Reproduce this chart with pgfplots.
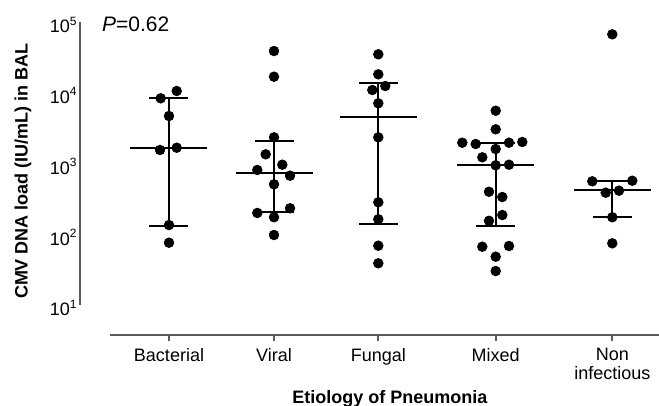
\documentclass[border=0pt]{standalone}
\usepackage{fontspec}
\setmainfont{Liberation Sans}
\usepackage{pgfplots}
\usepackage{pgfplotstable}
\pgfplotsset{compat=1.18}

\definecolor{axisgray}{RGB}{90,90,90}
\tikzset{axl/.style={axisgray, line width=0.9pt}}

% x = horizontal position of each dot (category centre plus jitter), y = CMV load
\pgfplotstableread{
x y
160.7 8345
176.7 10590
169 4690
160 1553
176.7 1672
169 135
169 76
}\bacterial
\pgfplotstableread{
x y
274 38900
274 16870
274 2345
265.7 1349
282.3 962
257.3 810
290 673
274 508
257.3 200
290 233
274 174
274 97.6
}\viral
\pgfplotstableread{
x y
378.3 34940
378.3 18230
372.3 10940
385.3 12450
378.3 7095
378.3 2345
378.3 283
378.3 163
378.3 68.9
378.3 38.9
}\fungal
\pgfplotstableread{
x y
495.7 5575
495.7 3043
462.3 1968
475.7 1887
509 1968
522.3 2014
495.7 1603
482.3 1224
495.7 943
509 962
489 399
502.3 336
502.3 187
489 155
482.3 66.7
509 68.2
495.7 48.2
495.7 30.2
}\mixed
\pgfplotstableread{
x y
612.3 67000
592.3 560
632.3 571
605.7 387
619 413
612.3 174
612.3 74.5
}\noninf

% median and interquartile range
\pgfplotstableread{
x y
169 1672
274 727
378.3 4585
495.7 962
612.3 422
}\medians
\pgfplotstableread{
x y
169 8345
169 132
274 2080
274 204
378.3 13870
378.3 141
495.7 1968
495.7 131
612.3 571
612.3 174
}\quartiles

\begin{document}
\begin{tikzpicture}
\begin{axis}[
  scale only axis,
  width=289.5pt, height=156.5pt,
  xmin=80, xmax=659,
  ymode=log, ymin=3.767, ymax=1e5,
  clip=false,
  axis line style={draw=none},
  xtick={169,274,378.3,495.7,612.3},
  xticklabels={Bacterial,Viral,Fungal,Mixed,{Non\\infectious}},
  ytick={10,100,1000,10000,100000},
  yticklabels={10\textsuperscript{1},10\textsuperscript{2},10\textsuperscript{3},10\textsuperscript{4},10\textsuperscript{5}},
  yminorticks=false,
  xtick style={draw=none}, ytick style={draw=none},
  xtick pos=bottom, ytick pos=left,
  xticklabel style={anchor=north, inner sep=0pt, yshift=-6.5pt, align=center,
    font=\fontsize{9}{9.5}\selectfont},
  yticklabel style={anchor=east, inner sep=0pt, xshift=-1pt, yshift=-1.5pt,
    font=\fontsize{9}{10}\selectfont},
  xlabel={Etiology of Pneumonia},
  ylabel={CMV DNA load (IU/mL) in BAL},
  xlabel style={at={(axis description cs:0.535,-0.2204)}, anchor=base,
    font=\bfseries\fontsize{9}{10}\selectfont},
  ylabel style={at={(axis description cs:-0.0984,0.524)}, anchor=center,
    font=\bfseries\fontsize{9}{10}\selectfont},
  whisk/.style={black, line width=1.1pt, forget plot},
  dots/.style={only marks, mark=*, mark size=2.4pt, black, forget plot},
]
% axis lines (detached, GraphPad style)
\draw[axl] (axis cs:80,10) -- (axis cs:80,1e5);
\draw[axl] (axis cs:110,3.767) -- (axis cs:659,3.767);
\draw[axl] (axis cs:169,3.767) -- (axis cs:169,3.1);
\draw[axl] (axis cs:274,3.767) -- (axis cs:274,3.1);
\draw[axl] (axis cs:378.3,3.767) -- (axis cs:378.3,3.1);
\draw[axl] (axis cs:495.7,3.767) -- (axis cs:495.7,3.1);
\draw[axl] (axis cs:612.3,3.767) -- (axis cs:612.3,3.1);

\addplot[whisk] coordinates {(169,132) (169,8345)};
\addplot[whisk] coordinates {(274,204) (274,2080)};
\addplot[whisk] coordinates {(378.3,141) (378.3,13870)};
\addplot[whisk] coordinates {(495.7,131) (495.7,1968)};
\addplot[whisk] coordinates {(612.3,174) (612.3,571)};
\addplot[only marks, mark=-, mark size=9.75pt, mark options={line width=1.1pt}, black, forget plot] table {\quartiles};
\addplot[only marks, mark=-, mark size=19.25pt, mark options={line width=1.1pt}, black, forget plot] table {\medians};

\addplot[dots] table {\bacterial};
\addplot[dots] table {\viral};
\addplot[dots] table {\fungal};
\addplot[dots] table {\mixed};
\addplot[dots] table {\noninf};

\node[anchor=base west, inner sep=0pt, font=\fontsize{10.5}{12}\selectfont]
  at (axis cs:101.7,72270) {\textit{P}=0.62};

\coordinate (bbSW) at (axis cs:0,0.386);
\coordinate (bbNE) at (axis cs:659,2.047e5);
\end{axis}
\pgfresetboundingbox
\useasboundingbox (bbSW) rectangle (bbNE);
\end{tikzpicture}
\end{document}
